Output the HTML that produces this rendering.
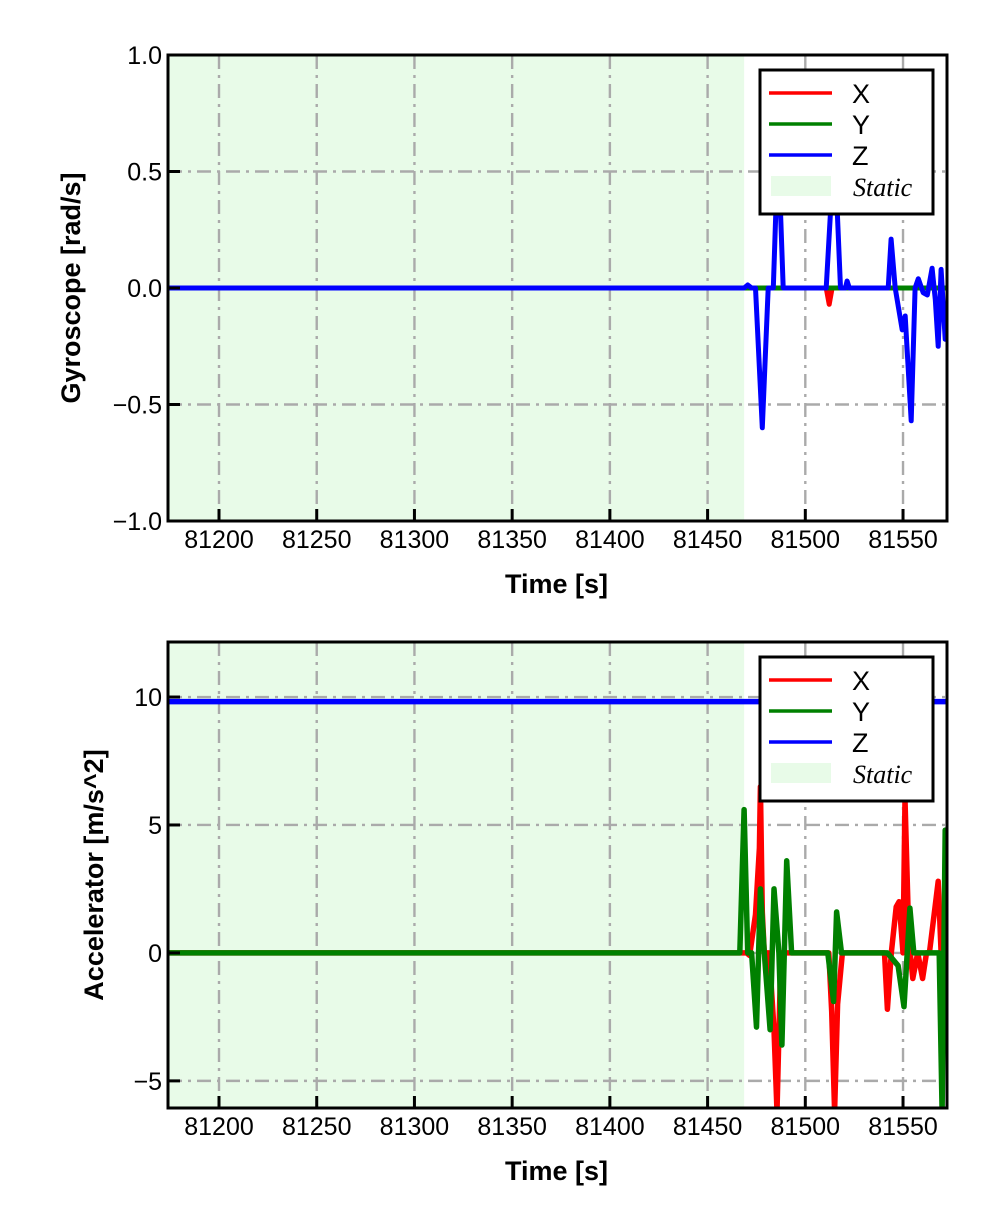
<!DOCTYPE html>
<html><head><meta charset="utf-8">
<style>
html,body{margin:0;padding:0;background:#fff;}
svg{display:block;font-family:"Liberation Sans",Arial,sans-serif;}
</style></head>
<body>
<svg id="fig" width="992" height="1228" viewBox="0 0 992 1228" xmlns="http://www.w3.org/2000/svg"></svg>
<script>
// ---- shared data ----
const xTicks = [81200, 81250, 81300, 81350, 81400, 81450, 81500, 81550];
const staticEnd = 81468.7;
const xMin = 81173.9, xMax = 81572.5;

// gyroscope (rad/s)
const gyroTicks = [-1.0, -0.5, 0.0, 0.5, 1.0];
const gyroTickLabels = ["\u22121.0", "\u22120.5", "0.0", "0.5", "1.0"];
const gyroXt = [81173.9, 81510.7, 81512.2, 81513.7, 81572.5];
const gyroXv = [0, 0, -0.07, 0, 0];
const gyroYt = [81173.9, 81572.5];
const gyroYv = [0, 0];
const gyroZt = [81173.9, 81468.7, 81470.5, 81472.5, 81474.5, 81478.0, 81481.0, 81483.6, 81486.1, 81488.7, 81489.7, 81510.7, 81514.9, 81518.0, 81520.5, 81521.4, 81522.5, 81542.4, 81543.9, 81546.0, 81549.6, 81551.1, 81554.2, 81556.2, 81557.8, 81560.3, 81562.4, 81564.9, 81566.5, 81568.0, 81569.5, 81571.6, 81572.5];
const gyroZv = [0, 0, 0.013, 0, 0, -0.60, 0, 0, 0.62, 0, 0, 0, 0.62, 0, 0, 0.03, 0, 0, 0.21, 0, -0.18, -0.12, -0.57, 0, 0.04, -0.02, -0.03, 0.085, -0.05, -0.25, 0.08, -0.22, -0.2];

// accelerometer (m/s^2)
const accTicks = [-5, 0, 5, 10];
const accTickLabels = ["\u22125", "0", "5", "10"];
const accXt = [81173.9, 81470.0, 81471.5, 81474.5, 81476.5, 81477.0, 81478.0, 81479.0, 81481.5, 81484.0, 81485.5, 81487.5, 81489.5, 81512.0, 81513.5, 81515.0, 81516.5, 81519.0, 81540.5, 81542.0, 81544.0, 81546.5, 81548.0, 81550.0, 81551.0, 81553.0, 81555.0, 81557.5, 81560.0, 81562.0, 81563.5, 81568.0, 81569.5, 81571.5, 81572.5];
const accXv = [0, 0, -0.1, 1.5, 4.1, 6.5, 1.6, 0, 0, -3.0, -6.2, 0, 0, 0, -2.3, -6.2, -2.0, 0, 0, -2.2, 0, 1.8, 2.0, 0, 6.0, 0.5, -1.0, 0, -1.0, 0, 0, 2.8, 0, 0, 0];
const accYt = [81173.9, 81466.5, 81468.7, 81470.5, 81472.5, 81475.0, 81477.0, 81479.0, 81482.0, 81484.0, 81486.5, 81488.0, 81490.5, 81493.0, 81496.5, 81511.5, 81514.5, 81516.0, 81518.5, 81542.0, 81547.5, 81550.5, 81553.5, 81555.5, 81557.5, 81568.5, 81570.0, 81571.6, 81572.5];
const accYv = [0, 0, 5.6, 0, 0, -2.9, 2.5, 0, -3.0, 2.5, 0, -3.6, 3.6, 0, 0, 0, -1.9, 1.6, 0, 0, -0.5, -2.1, 1.75, 0, 0, 0, -6.2, 4.8, 2.0];
const accZt = [81173.9, 81572.5];
const accZv = [9.82, 9.82];

const NS = "http://www.w3.org/2000/svg";
const svg = document.getElementById('fig');
function mk(tag, attrs, parent) {
  const e = document.createElementNS(NS, tag);
  for (const k in attrs) e.setAttribute(k, attrs[k]);
  (parent || svg).appendChild(e);
  return e;
}

function panel(cfg) {
  const L = 168, R = 947, T = cfg.top, B = cfg.bottom;
  const xs = t => L + (t - xMin) / (xMax - xMin) * (R - L);
  const ys = v => B - (v - cfg.yMin) / (cfg.yMax - cfg.yMin) * (B - T);
  const g = mk('g', {});
  
  
  const clipId = cfg.name + '-clip';
  const cp = mk('clipPath', {id: clipId}, g);
  mk('rect', {x: L, y: T, width: R - L, height: B - T}, cp);
  const st = mk('rect', {x: L, y: T, width: xs(staticEnd) - L, height: B - T, fill: '#e8fbe8'}, g);
  
  
  xTicks.forEach(t => {
    const l = mk('line', {x1: xs(t), x2: xs(t), y1: T, y2: B, stroke: '#aaaaaa', 'stroke-width': 2.4, 'stroke-dasharray': '14 6 3 6'}, g);
    
    
  });
  cfg.ticks.forEach(v => {
    const l = mk('line', {x1: L, x2: R, y1: ys(v), y2: ys(v), stroke: '#aaaaaa', 'stroke-width': 2.4, 'stroke-dasharray': '14 6 3 6'}, g);
    
    
  });
  const series = [[cfg.xt, cfg.xv, '#ff0000', 'series-x'], [cfg.yt, cfg.yv, '#008000', 'series-y'], [cfg.zt, cfg.zv, '#0000ff', 'series-z']];
  cfg.order.forEach(i => {
    const s = series[i];
    const pts = s[0].map((t, j) => xs(t).toFixed(1) + ',' + ys(s[1][j]).toFixed(1)).join(' ');
    const p = mk('polyline', {points: pts, fill: 'none', stroke: s[2], 'stroke-width': cfg.lw, 'stroke-linejoin': 'round', 'clip-path': 'url(#' + clipId + ')'}, g);
    
    
  });
  const fr = mk('rect', {x: L, y: T, width: R - L, height: B - T, fill: 'none', stroke: '#000', 'stroke-width': 3}, g);
  
  
  xTicks.forEach(t => {
    mk('line', {x1: xs(t), x2: xs(t), y1: B, y2: B - 12, stroke: '#000', 'stroke-width': 3}, g);
    const tx = mk('text', {x: xs(t), y: B + 27, 'font-size': 25, 'text-anchor': 'middle'}, g);
    tx.textContent = t;
    
    
  });
  cfg.ticks.forEach((v, i) => {
    mk('line', {x1: L, x2: L + 12, y1: ys(v), y2: ys(v), stroke: '#000', 'stroke-width': 3}, g);
    const tx = mk('text', {x: L - 6, y: ys(v) + 9, 'font-size': 25, 'text-anchor': 'end'}, g);
    tx.textContent = cfg.tickLabels[i];
    
    
  });
  const xt = mk('text', {x: (L + R) / 2 - 1, y: B + 72, 'font-size': 27, 'font-weight': 'bold', 'text-anchor': 'middle'}, g);
  xt.textContent = 'Time [s]';
  
  
  const cy = (T + B) / 2;
  const yt = mk('text', {x: cfg.ylabelX, y: cy, 'font-size': 27, 'font-weight': 'bold', 'text-anchor': 'middle', transform: 'rotate(-90 ' + cfg.ylabelX + ' ' + cy + ')'}, g);
  yt.textContent = cfg.ylabel;
  
  
  const lg = mk('g', {}, g);
  
  
  const LT = T + 15;
  mk('rect', {x: 760, y: LT, width: 173, height: 144, fill: '#fff', stroke: '#000', 'stroke-width': 3}, lg);
  const labels = ['X', 'Y', 'Z'], cols = ['#ff0000', '#008000', '#0000ff'];
  labels.forEach((lb, i) => {
    const yy = LT + 23 + i * 31;
    const ln = mk('line', {x1: 769, x2: 832, y1: yy, y2: yy, stroke: cols[i], 'stroke-width': 3.5}, lg);
    
    
    const tx = mk('text', {x: 852, y: yy + 10, 'font-size': 27}, lg);
    tx.textContent = lb;
    
    
  });
  const sp = mk('rect', {x: 771, y: LT + 106, width: 60, height: 20, fill: '#e8fbe8'}, lg);
  
  
  const stx = mk('text', {x: 853, y: LT + 126, 'font-size': 26, 'font-style': 'italic', 'font-family': '"Liberation Serif", serif'}, lg);
  stx.textContent = 'Static';
  
  
}

panel({name: 'gyroscope-chart', top: 55, bottom: 521, yMin: -1, yMax: 1, ticks: gyroTicks, tickLabels: gyroTickLabels,
  xt: gyroXt, xv: gyroXv, yt: gyroYt, yv: gyroYv, zt: gyroZt, zv: gyroZv, order: [0, 1, 2], lw: 5,
  ylabel: 'Gyroscope [rad/s]', ylabelX: 80});
panel({name: 'accelerometer-chart', top: 642, bottom: 1108, yMin: -6.06, yMax: 12.15, ticks: accTicks, tickLabels: accTickLabels,
  xt: accXt, xv: accXv, yt: accYt, yv: accYv, zt: accZt, zv: accZv, order: [2, 0, 1], lw: 5.5,
  ylabel: 'Accelerator [m/s^2]', ylabelX: 103});
</script>
</body></html>
